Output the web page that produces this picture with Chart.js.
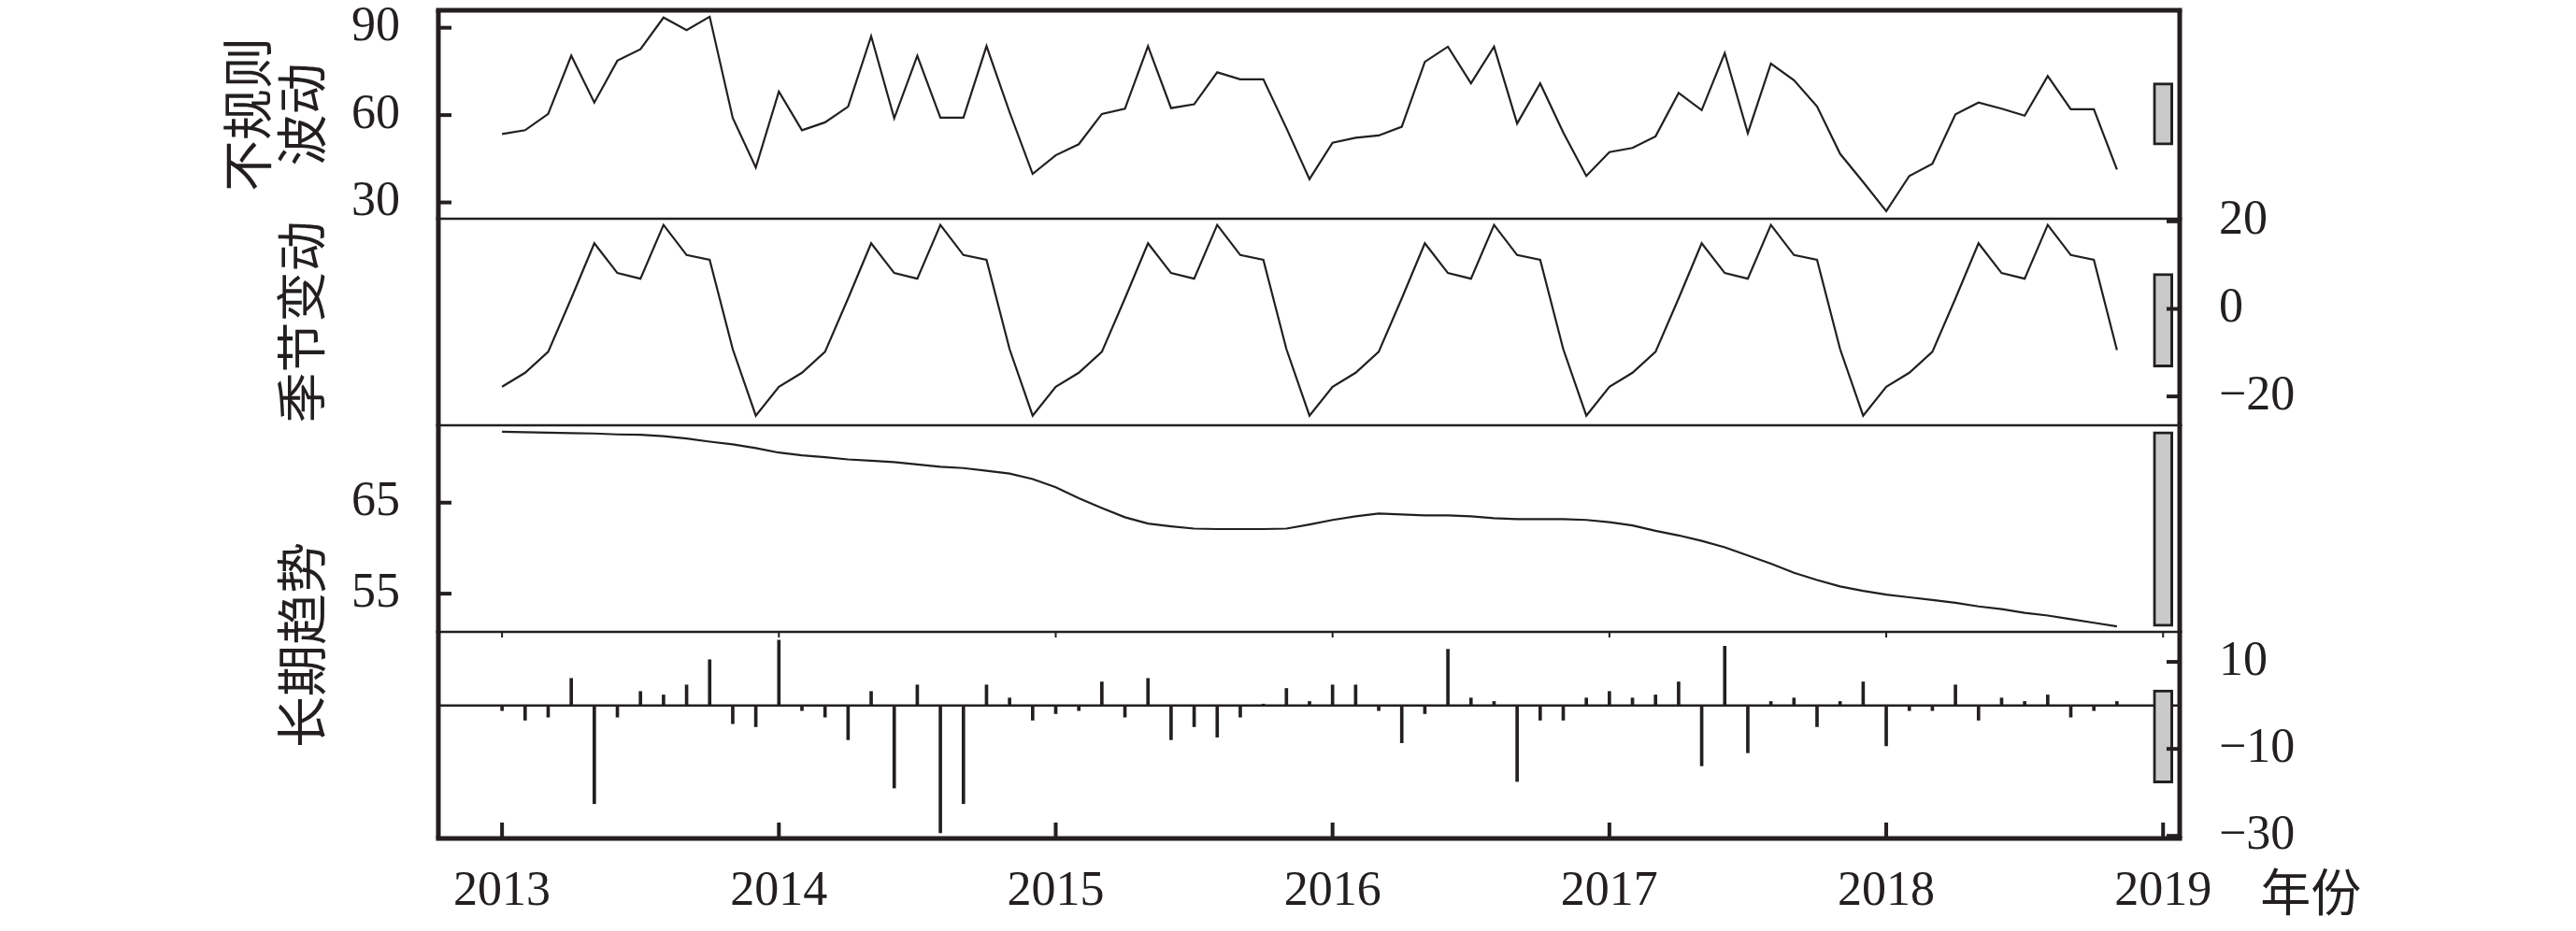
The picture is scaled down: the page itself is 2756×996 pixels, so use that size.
<!DOCTYPE html>
<html><head><meta charset="utf-8">
<script src="https://cdn.jsdelivr.net/npm/chart.js@4.4.1/dist/chart.umd.min.js"></script>
<style>
html,body{margin:0;padding:0;background:#fff;}
#wrap{position:relative;width:2756px;height:996px;overflow:hidden;background:#fff;}
canvas{position:absolute;left:0;top:0;}
</style></head><body>
<div id="wrap">
<canvas id="c1" width="2756" height="996"></canvas>
<canvas id="c2" width="2756" height="996"></canvas>
<canvas id="c3" width="2756" height="996"></canvas>
<canvas id="c4" width="2756" height="996"></canvas>
</div>
<script>
// ---------- data (monthly, Jan 2013 – Nov 2018) ----------
const START_YEAR = 2013;
const observed = [53.5,54.8,60.4,80.4,64.3,78.7,82.6,93.5,89.2,93.8,59.0,42.0,
  68.1,54.8,57.5,62.9,87.1,58.9,80.4,59.1,59.1,83.7,61.0,39.8,
  46.2,50.0,60.4,62.2,83.7,62.4,63.7,74.7,72.3,72.3,55.5,38.0,
  50.5,52.2,53.0,56.0,78.3,83.5,70.9,83.5,57.1,70.9,54.0,39.1,
  47.3,48.7,52.7,67.6,61.7,81.3,53.8,77.7,72.0,63.0,46.7,37.0,
  27.0,39.1,43.3,60.3,64.3,62.2,59.8,73.4,62.0,62.0,41.3];
const seasonal = [-17.8,-14.6,-9.8,2.4,15.0,8.2,6.9,19.2,12.3,11.2,-9.2,-24.4,
  -17.8,-14.6,-9.8,2.4,15.0,8.2,6.9,19.2,12.3,11.2,-9.2,-24.4,
  -17.8,-14.6,-9.8,2.4,15.0,8.2,6.9,19.2,12.3,11.2,-9.2,-24.4,
  -17.8,-14.6,-9.8,2.4,15.0,8.2,6.9,19.2,12.3,11.2,-9.2,-24.4,
  -17.8,-14.6,-9.8,2.4,15.0,8.2,6.9,19.2,12.3,11.2,-9.2,-24.4,
  -17.8,-14.6,-9.8,2.4,15.0,8.2,6.9,19.2,12.3,11.2,-9.4];
const trend = [72.8,72.75,72.7,72.65,72.6,72.5,72.45,72.3,72.05,71.7,71.4,71.0,
  70.5,70.2,70.0,69.75,69.6,69.45,69.2,68.95,68.8,68.5,68.2,67.6,
  66.7,65.5,64.4,63.4,62.7,62.4,62.15,62.1,62.1,62.1,62.15,62.6,
  63.1,63.5,63.8,63.7,63.6,63.6,63.5,63.3,63.2,63.2,63.2,63.1,
  62.85,62.5,61.9,61.4,60.8,60.1,59.2,58.3,57.3,56.5,55.8,55.3,
  54.9,54.6,54.3,54.0,53.6,53.3,52.9,52.6,52.2,51.8,51.4];
const remainder = [-1.2,-3.4,-2.7,6.2,-22.6,-2.7,3.2,2.4,4.7,10.5,-4.2,-4.9,
  15.0,-1.2,-2.7,-7.9,3.2,-19.0,4.7,-29.3,-22.6,4.7,1.7,-3.4,
  -1.9,-1.2,5.4,-2.7,6.2,-7.9,-4.9,-7.3,-2.7,0.3,3.9,0.9,
  4.7,4.7,-1.2,-8.6,-1.9,12.9,1.7,0.9,-17.5,-3.4,-3.4,1.7,
  3.2,1.7,2.4,5.4,-13.9,13.6,-10.9,0.9,1.7,-4.9,0.9,5.4,
  -9.3,-1.2,-1.2,4.7,-3.4,1.7,0.9,2.4,-2.7,-1.2,0.9];
const yearTicks = [2013,2014,2015,2016,2017,2018,2019];
const ticksObserved = [30,60,90];
const ticksSeasonal = [-20,0,20];
const ticksTrend = [55,65];
const ticksRemainder = [-30,-10,10];
const labelObserved = ['不规则','波动'];
const labelSeasonal = '季节变动';
const labelTrend = '长期趋势';
const labelYear = '年份';

// ---------- styling / layout ----------
const INK = '#231f20';
const SERIF = "'Liberation Serif','Times New Roman',serif";
const CJK = "'Noto Sans CJK SC','Noto Sans CJK JP',sans-serif";
const W = 2756, H = 996;
const AREA_LEFT = 469, AREA_RIGHT = 2332;
const X_MIN = 2012.77, X_MAX = 2019.06;
const panels = [
  {top: 11, bottom: 234, min: 24.4, max: 96.0},
  {top: 234, bottom: 455, min: -26.6, max: 20.6},
  {top: 455, bottom: 676, min: 50.8, max: 73.5},
  {top: 676, bottom: 897, min: -30.6, max: 16.9}
];
const time = observed.map((_, i) => START_YEAR + i / 12);
const pts = arr => arr.map((v, i) => ({x: time[i], y: v}));
const fmt = v => (v < 0 ? '\u2212' + Math.abs(v) : String(v));

// range bars (same data height in every panel = range of trend)
const halfBar = (Math.max(...trend) - Math.min(...trend)) / 2;
const mid = arr => (Math.max(...arr) + Math.min(...arr)) / 2;
const rangeBar = arr => ({
  type: 'bar', data: [{x: 2019, y: [mid(arr) - halfBar, mid(arr) + halfBar]}],
  backgroundColor: '#c9c9c9', borderColor: INK, borderWidth: 3, borderSkipped: false,
  barThickness: 21, grouped: false, order: 0
});
const lineDs = arr => ({
  type: 'line', data: pts(arr), borderColor: INK, borderWidth: 2.2,
  pointRadius: 0, tension: 0, fill: false, order: 1
});

const framePlugin = {
  id: 'frame',
  afterDatasetsDraw(chart, args, o) {
    const {ctx, chartArea: a} = chart;
    ctx.save();
    ctx.fillStyle = INK;
    const sideW = 5;
    ctx.fillRect(a.left - sideW / 2, a.top, sideW, a.bottom - a.top);
    ctx.fillRect(a.right - sideW / 2, a.top, sideW, a.bottom - a.top);
    if (o.topW) ctx.fillRect(a.left - sideW / 2, a.top - o.topW / 2, a.right - a.left + sideW, o.topW);
    if (o.bottomW) ctx.fillRect(a.left - sideW / 2, a.bottom - o.bottomW / 2, a.right - a.left + sideW, o.bottomW);
    const ys = chart.scales[o.tickAxis];
    (o.yTicks || []).forEach(v => {
      const py = ys.getPixelForValue(v);
      if (o.side === 'left') ctx.fillRect(a.left, py - 2, 14, 4);
      else ctx.fillRect(a.right - 14, py - 2, 14, 4);
    });
    if (o.xTicks) {
      const xs = chart.scales.x;
      yearTicks.forEach(v => {
        const px = xs.getPixelForValue(v);
        ctx.fillRect(px - 2, a.bottom - 17, 4, 17);
        ctx.fillRect(px - 1, a.top, 2, 6);
      });
    }
    ctx.restore();
  }
};

const textPlugin = {
  id: 'extraText',
  afterDraw(chart) {
    const ctx = chart.ctx;
    ctx.save();
    ctx.fillStyle = INK;
    ctx.font = '55px ' + CJK;
    ctx.textAlign = 'center';
    ctx.textBaseline = 'middle';
    ctx.translate(322, 690);
    ctx.rotate(-Math.PI / 2);
    ctx.fillText(labelTrend, 0, 0);
    ctx.restore();
    ctx.save();
    ctx.fillStyle = INK;
    ctx.font = '54px ' + CJK;
    ctx.textAlign = 'center';
    ctx.textBaseline = 'middle';
    const xs = chart.scales.x;
    ctx.fillText(labelYear, xs.getPixelForValue(2019) + 158, 954);
    ctx.restore();
  }
};

function fixWidth(w) {
  return s => { s.width = w; s.paddingTop = 0; s.paddingBottom = 0; s.paddingLeft = 0; s.paddingRight = 0; };
}
function yAxis(p, pos, ticks, extra) {
  return Object.assign({
    type: 'linear', position: pos, min: p.min, max: p.max,
    afterBuildTicks: s => { s.ticks = ticks.map(v => ({value: v})); },
    grid: {display: false, drawTicks: false},
    border: {display: false},
    ticks: {color: INK, font: {family: SERIF, size: 52}, padding: pos === 'left' ? 41 : 42, callback: fmt},
    afterFit: fixWidth(pos === 'left' ? AREA_LEFT : W - AREA_RIGHT)
  }, extra || {});
}
function hiddenX() {
  return {type: 'linear', min: X_MIN, max: X_MAX, display: false, offset: false, grid: {offset: false}};
}
function blankLeft(title, padTop) {
  return {
    type: 'linear', position: 'left', min: 0, max: 1, display: true,
    grid: {display: false, drawTicks: false}, border: {display: false},
    ticks: {display: false},
    title: {display: true, text: title, color: INK, font: {family: CJK, size: 54, lineHeight: 58 / 54}, padding: {top: padTop, bottom: 0}},
    afterFit: fixWidth(AREA_LEFT)
  };
}
const common = {
  responsive: false, animation: false, devicePixelRatio: 1,
  plugins: {legend: {display: false}, tooltip: {enabled: false}}
};

// Panel 1: observed (labelled 不规则波动)
new Chart(document.getElementById('c1'), {
  type: 'line',
  data: {datasets: [Object.assign(lineDs(observed), {yAxisID: 'y'}), Object.assign(rangeBar(observed), {yAxisID: 'y'})]},
  options: Object.assign({}, common, {
    layout: {padding: {top: panels[0].top, bottom: H - panels[0].bottom, left: 0, right: W - AREA_RIGHT}},
    scales: {
      x: hiddenX(),
      y: yAxis(panels[0], 'left', ticksObserved, {
        title: {display: true, text: labelObserved, color: INK, font: {family: CJK, size: 55, lineHeight: 58 / 55}, padding: {top: 235, bottom: 0}}
      })
    },
    plugins: Object.assign({}, common.plugins, {frame: {topW: 5, bottomW: 2.5, side: 'left', tickAxis: 'y', yTicks: ticksObserved}})
  }),
  plugins: [framePlugin]
});

// Panel 2: seasonal
new Chart(document.getElementById('c2'), {
  type: 'line',
  data: {datasets: [Object.assign(lineDs(seasonal), {yAxisID: 'y'}), Object.assign(rangeBar(seasonal), {yAxisID: 'y'})]},
  options: Object.assign({}, common, {
    layout: {padding: {top: panels[1].top, bottom: H - panels[1].bottom, left: 0, right: 0}},
    scales: {
      x: hiddenX(),
      yl: blankLeft(labelSeasonal, 293),
      y: yAxis(panels[1], 'right', ticksSeasonal)
    },
    plugins: Object.assign({}, common.plugins, {frame: {bottomW: 2.5, side: 'right', tickAxis: 'y', yTicks: ticksSeasonal}})
  }),
  plugins: [framePlugin]
});

// Panel 3: trend
new Chart(document.getElementById('c3'), {
  type: 'line',
  data: {datasets: [Object.assign(lineDs(trend), {yAxisID: 'y'}), Object.assign(rangeBar(trend), {yAxisID: 'y'})]},
  options: Object.assign({}, common, {
    layout: {padding: {top: panels[2].top, bottom: H - panels[2].bottom, left: 0, right: W - AREA_RIGHT}},
    scales: {
      x: hiddenX(),
      y: yAxis(panels[2], 'left', ticksTrend)
    },
    plugins: Object.assign({}, common.plugins, {frame: {bottomW: 2.5, side: 'left', tickAxis: 'y', yTicks: ticksTrend}})
  }),
  plugins: [framePlugin]
});

// Panel 4: remainder
new Chart(document.getElementById('c4'), {
  type: 'bar',
  data: {datasets: [
    {type: 'bar', data: pts(remainder), backgroundColor: INK, borderWidth: 0, barThickness: 3, grouped: false, yAxisID: 'y', order: 2},
    {type: 'line', data: [{x: X_MIN, y: 0}, {x: X_MAX, y: 0}], borderColor: INK, borderWidth: 2.5, pointRadius: 0, yAxisID: 'y', order: 1},
    Object.assign(rangeBar(remainder), {yAxisID: 'y'})
  ]},
  options: Object.assign({}, common, {
    layout: {padding: {top: panels[3].top, bottom: 0, left: AREA_LEFT, right: 0}},
    scales: {
      x: {
        type: 'linear', position: 'bottom', min: X_MIN, max: X_MAX, offset: false,
        afterBuildTicks: s => { s.ticks = yearTicks.map(v => ({value: v})); },
        grid: {display: false, drawTicks: false, offset: false}, border: {display: false},
        ticks: {color: INK, font: {family: SERIF, size: 52}, padding: 26, maxRotation: 0, autoSkip: false, callback: v => String(v)},
        afterFit: s => { s.height = H - panels[3].bottom; s.paddingLeft = 0; s.paddingRight = 0; }
      },
      y: yAxis(panels[3], 'right', ticksRemainder)
    },
    plugins: Object.assign({}, common.plugins, {frame: {bottomW: 5, side: 'right', tickAxis: 'y', yTicks: ticksRemainder, xTicks: true}})
  }),
  plugins: [framePlugin, textPlugin]
});
</script>
</body></html>
